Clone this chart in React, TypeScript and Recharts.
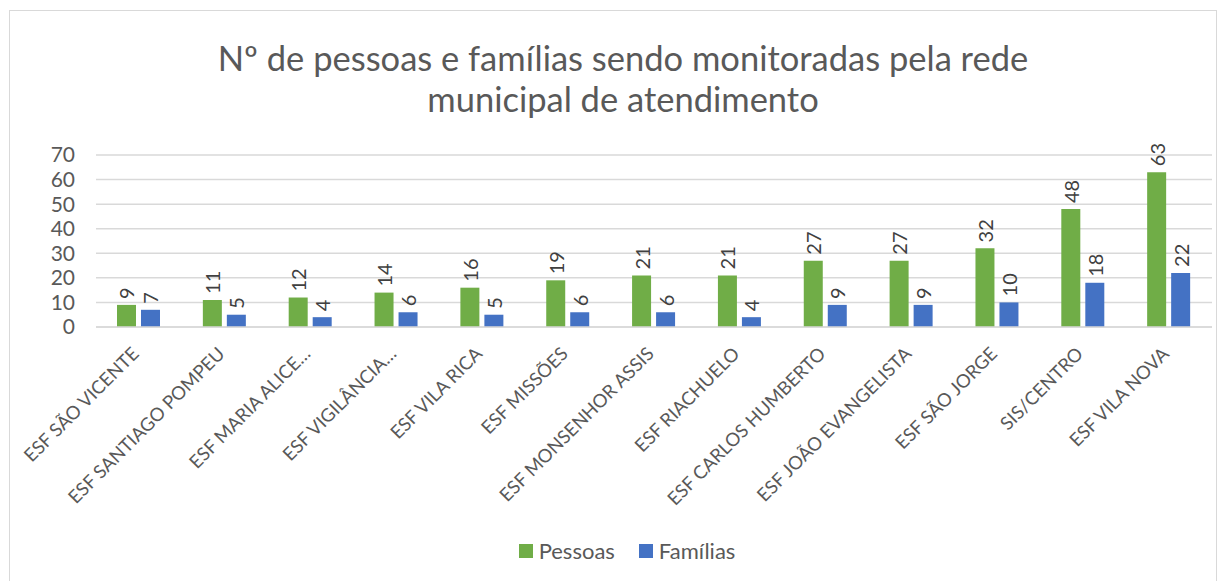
import React from "react";
import { BarChart, Bar, XAxis, YAxis, CartesianGrid, LabelList } from "recharts";

const categorias = [
  "ESF SÃO VICENTE",
  "ESF SANTIAGO POMPEU",
  "ESF MARIA ALICE…",
  "ESF VIGILÂNCIA…",
  "ESF VILA RICA",
  "ESF MISSÕES",
  "ESF MONSENHOR ASSIS",
  "ESF RIACHUELO",
  "ESF CARLOS HUMBERTO",
  "ESF JOÃO EVANGELISTA",
  "ESF SÃO JORGE",
  "SIS/CENTRO",
  "ESF VILA NOVA",
];
const pessoas = [9, 11, 12, 14, 16, 19, 21, 21, 27, 27, 32, 48, 63];
const familias = [7, 5, 4, 6, 5, 6, 6, 4, 9, 9, 10, 18, 22];
const yTicks = [0, 10, 20, 30, 40, 50, 60, 70];

const data = categorias.map((nome, i) => ({
  nome,
  pessoas: pessoas[i],
  familias: familias[i],
}));

const FONT = "Lato, 'Open Sans', sans-serif";
const GREEN = "#70AD47";
const BLUE = "#4472C4";
const TEXT = "#595959";

const XTick = (props: any) => {
  const { x, y, payload } = props;
  const ax = x + 1;
  const ay = y + 20;
  return (
    <text
      x={ax}
      y={ay}
      transform={`rotate(-45, ${ax}, ${ay})`}
      textAnchor="end"
      fontSize={18.5}
      fill={TEXT}
      fontFamily={FONT}
    >
      {payload.value}
    </text>
  );
};

const ValueLabel = (props: any) => {
  const { x, y, width, value } = props;
  const lx = x + width / 2;
  const ly = y - 6;
  return (
    <text
      x={lx}
      y={ly}
      transform={`rotate(-90, ${lx}, ${ly})`}
      textAnchor="start"
      dominantBaseline="central"
      fontSize={20}
      fill="#404040"
      fontFamily={FONT}
    >
      {value}
    </text>
  );
};

export default function App() {
  return (
    <div
      style={{
        position: "relative",
        width: 1206,
        height: 580,
        border: "1px solid #d9d9d9",
        marginLeft: 1,
        marginTop: 2,
        background: "#fff",
        fontFamily: FONT,
      }}
    >
      <div
        style={{
          position: "absolute",
          top: 26,
          left: 10,
          width: "100%",
          textAlign: "center",
          fontSize: 34.5,
          lineHeight: "41px",
          color: TEXT,
        }}
      >
        Nº de pessoas e famílias sendo monitoradas pela rede
        <br />
        municipal de atendimento
      </div>
      <BarChart
        width={1206}
        height={573}
        data={data}
        margin={{ top: 145, right: 3, left: 47, bottom: 66 }}
        barSize={19}
        barGap={5}
        style={{ position: "absolute", top: -1, left: -1 }}
      >
        <CartesianGrid vertical={false} stroke="#d9d9d9" strokeWidth={1.5} />
        <XAxis
          dataKey="nome"
          interval={0}
          tickLine={false}
          axisLine={{ stroke: "#d9d9d9", strokeWidth: 1.5 }}
          height={190}
          tick={<XTick />}
        />
        <YAxis
          domain={[0, 70]}
          ticks={yTicks}
          interval={0}
          width={40}
          tickLine={false}
          axisLine={false}
          tick={{ fontSize: 21, fill: TEXT, fontFamily: FONT, dx: -13 }}
        />
        <Bar dataKey="pessoas" fill={GREEN} isAnimationActive={false}>
          <LabelList dataKey="pessoas" content={<ValueLabel />} />
        </Bar>
        <Bar dataKey="familias" fill={BLUE} isAnimationActive={false}>
          <LabelList dataKey="familias" content={<ValueLabel />} />
        </Bar>
      </BarChart>
      <div
        style={{
          position: "absolute",
          top: 526,
          left: 14,
          width: "100%",
          display: "flex",
          justifyContent: "center",
          gap: 24,
          fontSize: 22,
          color: TEXT,
        }}
      >
        {[
          { nome: "Pessoas", cor: GREEN },
          { nome: "Famílias", cor: BLUE },
        ].map((s) => (
          <div key={s.nome} style={{ display: "flex", alignItems: "center" }}>
            <span
              style={{
                display: "inline-block",
                width: 14,
                height: 14,
                background: s.cor,
                marginRight: 6,
              }}
            />
            {s.nome}
          </div>
        ))}
      </div>
    </div>
  );
}
